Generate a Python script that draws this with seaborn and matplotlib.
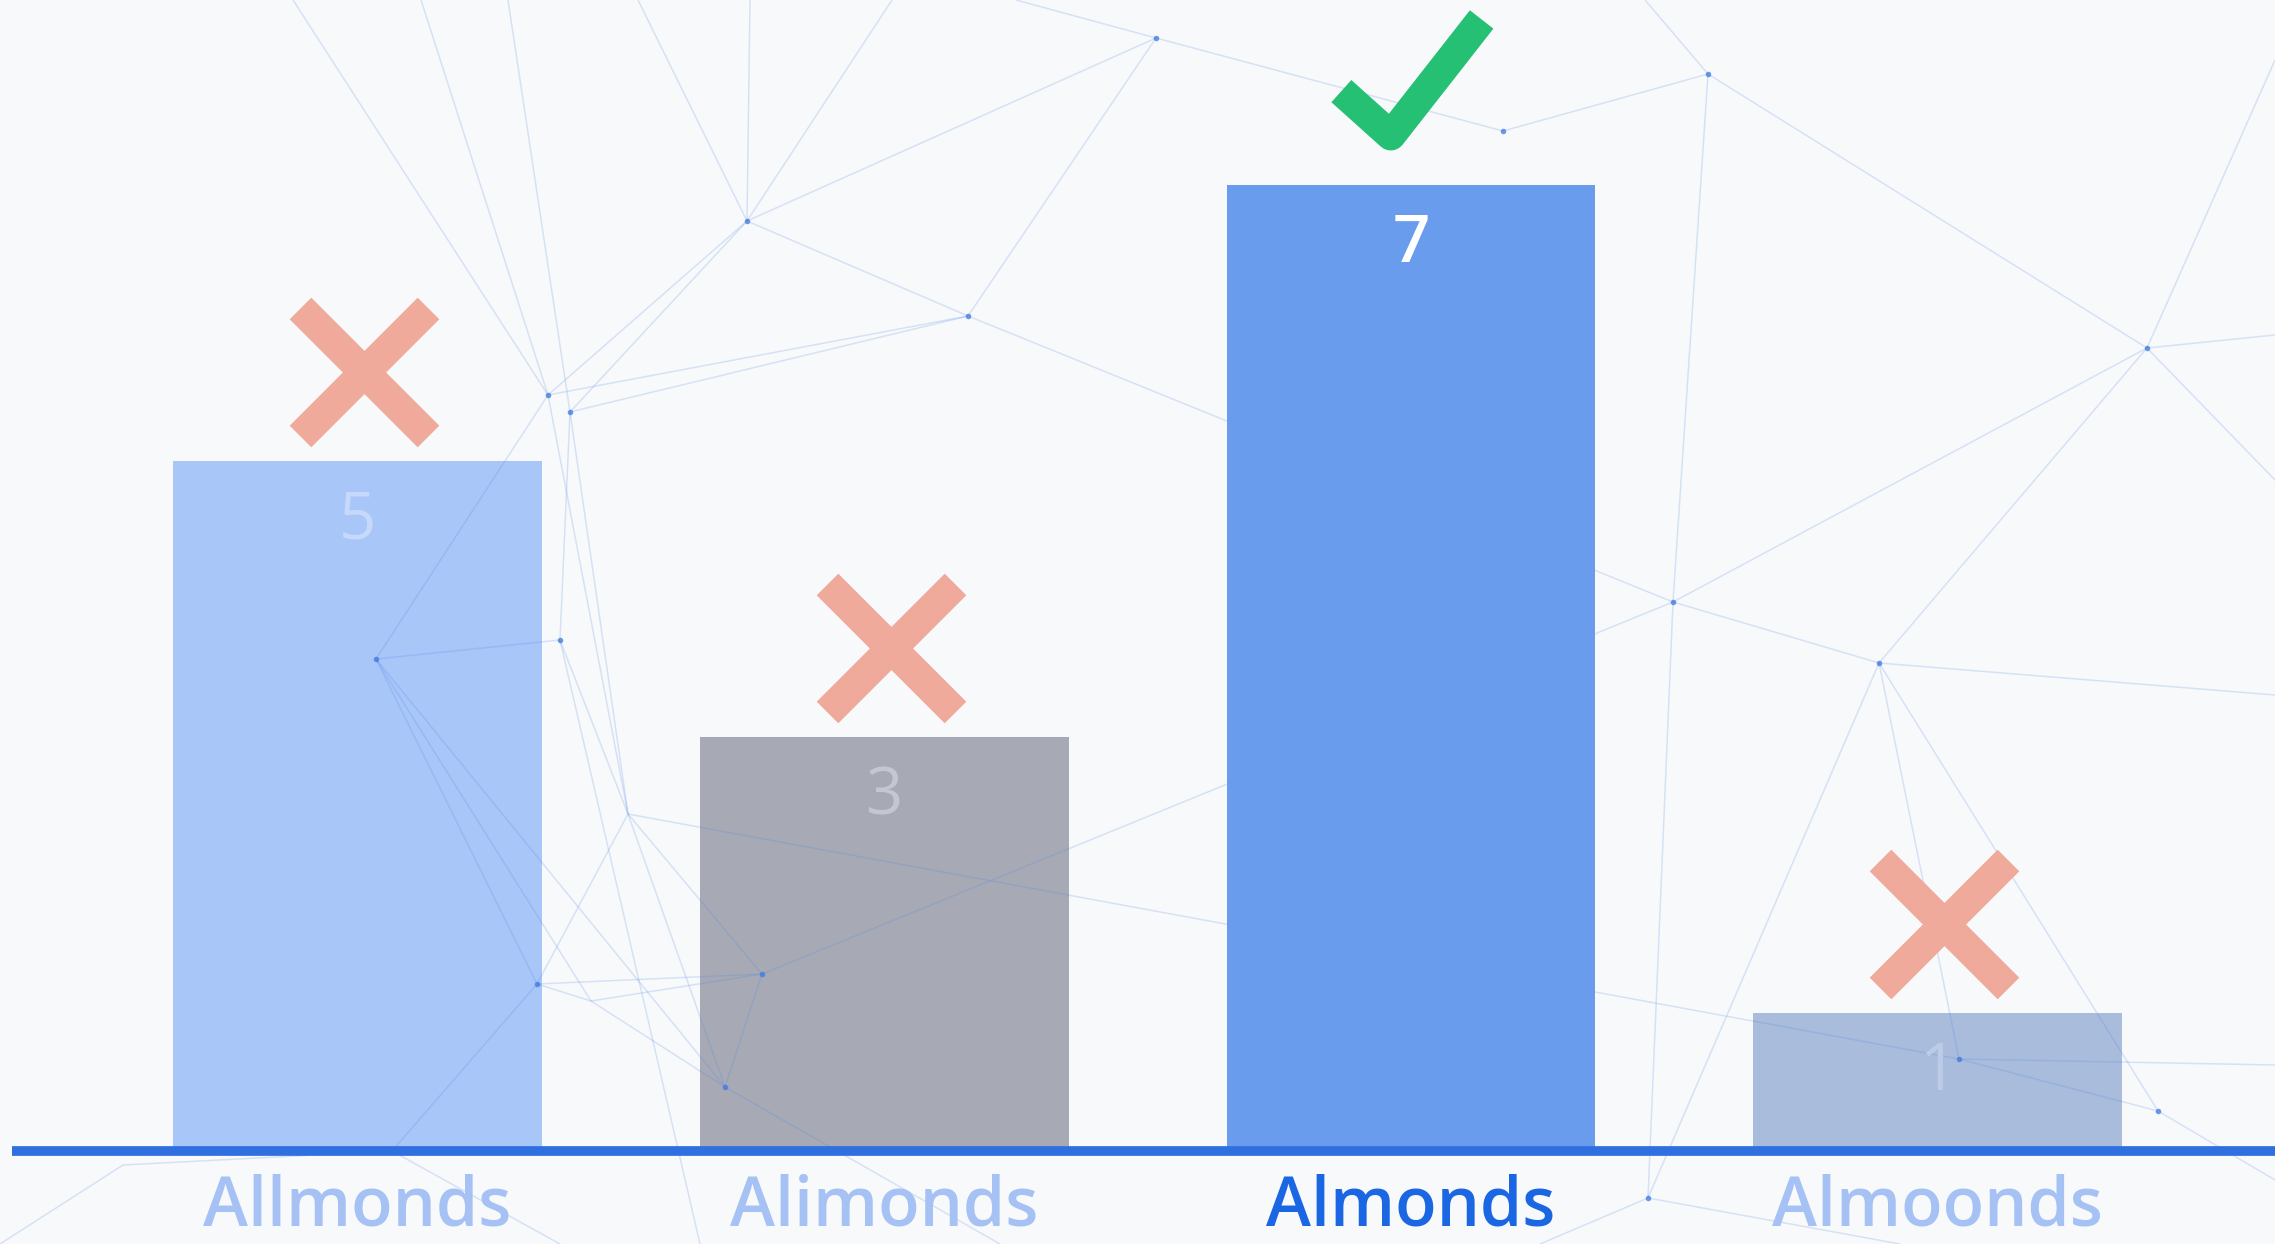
import matplotlib
matplotlib.use("Agg")
import pandas as pd
import matplotlib.pyplot as plt
from matplotlib.path import Path
from matplotlib.markers import MarkerStyle
from matplotlib.collections import LineCollection
import seaborn as sns

# Chart data
labels = ["Allmonds", "Alimonds", "Almonds", "Almoonds"]
values = [5, 3, 7, 1]
correct = [False, False, True, False]
bar_colors = ["#a9c6f8", "#a7aab5", "#6a9cee", "#a9bcdc"]
value_colors = ["#c6d9fb", "#c3c7cf", "#ffffff", "#bccbe6"]
label_colors = ["#a6c2f4", "#a6c2f4", "#1a66e3", "#a6c2f4"]

# Decorative background network (pixel positions on the 2275x1244 canvas)
nodes = {
    "A": (1156, 38), "B": (1708, 74), "C": (747, 221), "D": (968, 316),
    "E": (548, 395), "F": (570, 412), "G": (376, 659), "H": (560, 640),
    "I": (1503, 131), "J": (2147, 348), "K": (1879, 663), "L": (1673, 602),
    "M": (628, 814), "N": (762, 974), "O": (537, 984), "P": (591, 1001),
    "Q": (725, 1087), "R": (1959, 1059), "S": (2158, 1111), "T": (1648, 1198),
    "U": (123, 1165), "V": (392, 1151),
    "t1": (293, 0), "t2": (421, 0), "t3": (508, 0), "t4": (750, 0),
    "t5": (638, 0), "t6": (892, 0), "t7": (1016, 0), "t8": (1645, 0),
    "r1": (2275, 335), "r2": (2275, 695), "r3": (2275, 1065),
    "r4": (2275, 1180), "r5": (2275, 480), "r6": (2275, 60),
    "b1": (0, 1244), "b2": (560, 1244), "b3": (700, 1244), "b4": (1540, 1244),
    "b5": (1000, 1244), "b6": (1900, 1244),
}
edges = [
    ("E", "t1"), ("E", "t2"), ("F", "t3"), ("C", "t4"), ("C", "t5"), ("C", "t6"),
    ("E", "C"), ("F", "C"), ("E", "D"), ("F", "D"), ("C", "D"), ("C", "A"),
    ("D", "A"), ("A", "t7"), ("A", "I"), ("I", "B"), ("B", "t8"), ("B", "J"),
    ("J", "r6"), ("J", "r1"), ("J", "K"), ("J", "L"), ("B", "L"), ("D", "L"),
    ("L", "K"), ("K", "r2"), ("K", "R"), ("K", "S"), ("R", "S"), ("R", "r3"),
    ("S", "r4"), ("J", "r5"), ("N", "L"), ("R", "M"), ("T", "L"), ("T", "K"),
    ("T", "b4"), ("E", "G"), ("F", "H"), ("G", "H"), ("G", "O"), ("G", "P"),
    ("G", "Q"), ("H", "M"), ("M", "N"), ("M", "O"), ("M", "Q"), ("O", "P"),
    ("O", "N"), ("P", "N"), ("N", "Q"), ("P", "Q"), ("O", "V"), ("V", "U"),
    ("U", "b1"), ("V", "b2"), ("H", "b3"), ("Q", "b5"), ("T", "b6"),
    ("E", "M"), ("F", "M"),
]
dot_nodes = ["A", "B", "C", "D", "E", "F", "G", "H", "I", "J", "K", "L",
             "N", "O", "Q", "R", "S", "T"]

W, H = 2275, 1244
UNIT = 138.0       # pixels per value unit
BASE = 1151        # baseline pixel row
STEP = 526.7       # pixels between bar centres
X0 = 357.5         # first bar centre

sns.set_theme(style="white")
plt.rcParams["font.family"] = ["Open Sans", "DejaVu Sans"]

fig = plt.figure(figsize=(W / 100, H / 100), dpi=100, facecolor="#f8f9fa")
ax = fig.add_axes([0, 0, 1, 1])
ax.set_facecolor("#f8f9fa")

df = pd.DataFrame({"label": labels, "value": values})
sns.barplot(data=df, x="label", y="value", hue="label", palette=bar_colors,
            width=0.7, saturation=1, legend=False, linewidth=0, ax=ax)
for i, patch in enumerate(ax.patches):
    patch.set_zorder(2 if correct[i] else 1)

# background network
def to_fig(p):
    return (p[0] / W, 1 - p[1] / H)

segs = [[to_fig(nodes[a]), to_fig(nodes[b])] for a, b in edges]
lc = LineCollection(segs, colors="#4a86e8", linewidths=1.1, alpha=0.2,
                    transform=fig.transFigure, zorder=1.5)
ax.add_collection(lc)
dots = [to_fig(nodes[n]) for n in dot_nodes]
ax.scatter([d[0] for d in dots], [d[1] for d in dots], s=16, color="#3d78e0",
           alpha=0.75, linewidths=0, transform=fig.transFigure, zorder=1.6)

# baseline
ax.axhline(0, xmin=12 / W, xmax=1, color="#2f6fdf", lw=7, zorder=3,
           solid_capstyle="butt", clip_on=False)

# value labels and category labels
for i, (lab, v) in enumerate(zip(labels, values)):
    ax.text(i, v - 0.558, str(v), ha="center", va="baseline", fontsize=47,
            color=value_colors[i], fontweight="semibold" if correct[i] else "normal",
            zorder=4)
    ax.text(i, -(1226 - BASE) / UNIT, lab, ha="center", va="baseline",
            fontsize=49, color=label_colors[i], fontweight="semibold", zorder=4)

# right / wrong markers
check = MarkerStyle(Path([(-69.5, -13.5), (-20.5, -57.5), (69.5, 57.5)]),
                    joinstyle="miter", capstyle="butt")
for i, v in enumerate(values):
    if correct[i]:
        ax.plot(i, v + 0.786, marker=check, ms=101, mew=21.5, mec="#25c073",
                mfc="none", ls="none", zorder=5)
    else:
        ax.plot(i + 0.012, v + 0.645, marker="x", ms=92, mew=22, mec="#f0aa9c",
                ls="none", zorder=5)

ax.set_xlim(-X0 / STEP, (W - X0) / STEP)
ax.set_ylim(-(H - BASE) / UNIT, BASE / UNIT)
ax.axis("off")

fig.savefig("out.png", dpi=100, facecolor=fig.get_facecolor())
